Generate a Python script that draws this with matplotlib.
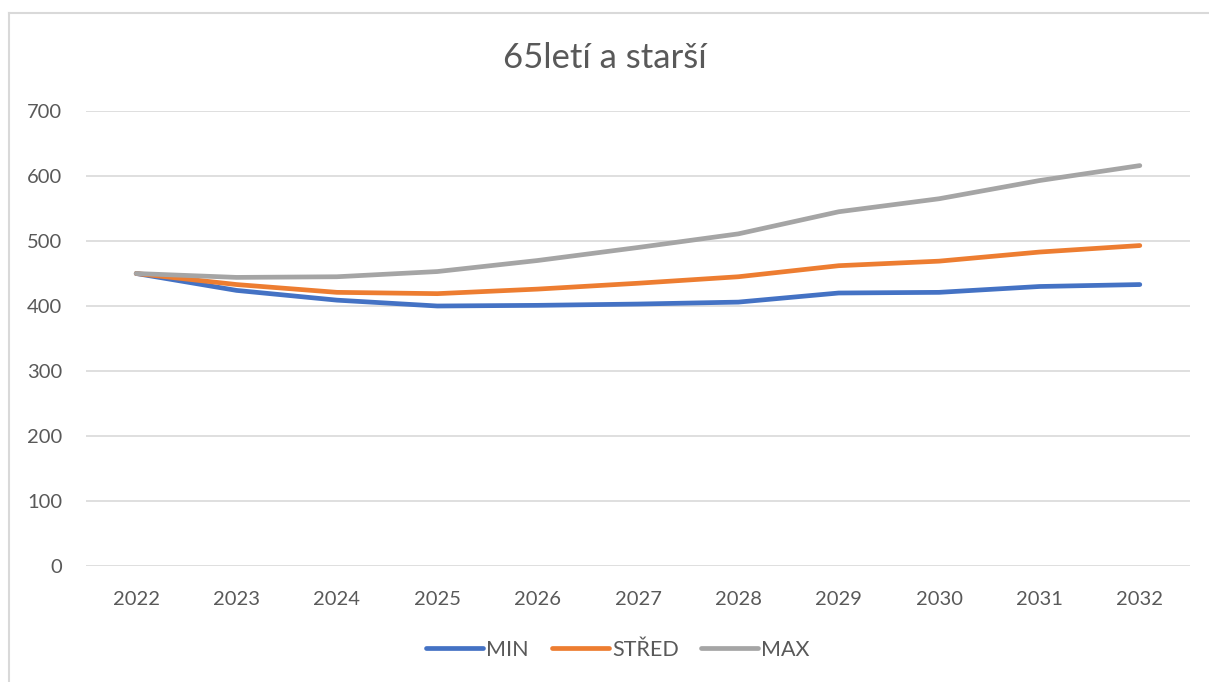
import matplotlib
matplotlib.use("Agg")
import matplotlib.pyplot as plt
from matplotlib.lines import Line2D

years = ["2022", "2023", "2024", "2025", "2026", "2027", "2028", "2029", "2030", "2031", "2032"]
min_vals = [450, 424, 409, 400, 401, 403, 406, 420, 421, 430, 433]
stred_vals = [450, 433, 421, 419, 426, 435, 445, 462, 469, 483, 493]
max_vals = [450, 444, 445, 453, 470, 490, 511, 545, 565, 593, 616]

plt.rcParams['font.family'] = ['Lato', 'DejaVu Sans']
text_col = "#595959"

fig = plt.figure(figsize=(12.09, 6.82), dpi=100)
# chart frame (only left and top edge visible in the crop)
fx = 8.5 / 1209
fy = 1 - 12.5 / 682
fig.lines.append(Line2D([fx, fx], [0, fy], transform=fig.transFigure, color="#d9d9d9", lw=1.5))
fig.lines.append(Line2D([fx, 1], [fy, fy], transform=fig.transFigure, color="#d9d9d9", lw=1.5))

ax = fig.add_axes([86 / 1209, 1 - 566 / 682, (1190 - 86) / 1209, (566 - 111) / 682])
x = list(range(len(years)))
ax.plot(x, min_vals, color="#4472C4", lw=3.4, solid_capstyle="round", label="MIN")
ax.plot(x, stred_vals, color="#ED7D31", lw=3.4, solid_capstyle="round", label="STŘED")
ax.plot(x, max_vals, color="#A5A5A5", lw=3.4, solid_capstyle="round", label="MAX")

ax.set_xlim(-0.5, len(years) - 0.5)
ax.set_ylim(0, 700)
ax.set_yticks(range(0, 701, 100))
ax.set_xticks(x)
ax.set_xticklabels(years)
ax.grid(axis="y", color="#d9d9d9", lw=1.2)
ax.set_axisbelow(True)
for s in ax.spines.values():
    s.set_visible(False)
ax.tick_params(length=0, labelsize=14.5, colors=text_col, pad=18)
ax.tick_params(axis="y", pad=17)

fig.text(0.5, 1 - 58 / 682, "65letí a starší", ha="center", va="center",
         fontsize=25, color=text_col)

leg = ax.legend(loc="center", bbox_to_anchor=(618 / 1209, 1 - 650 / 682), bbox_transform=fig.transFigure,
                ncol=3, frameon=False, fontsize=15.5, handlelength=2.65, handletextpad=0.15,
                columnspacing=1.05)
for t in leg.get_texts():
    t.set_color(text_col)

fig.savefig("out.png", dpi=100)
